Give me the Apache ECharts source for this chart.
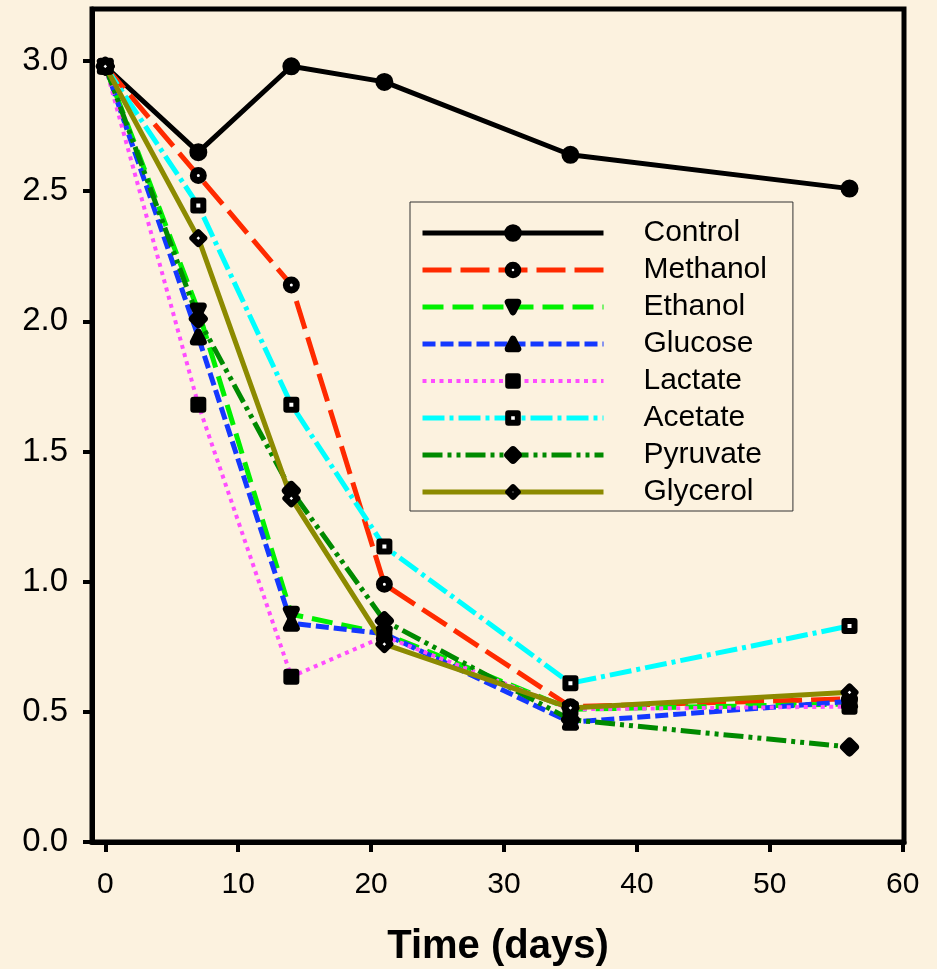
<!DOCTYPE html>
<html>
<head>
<meta charset="utf-8">
<script src="https://cdn.jsdelivr.net/npm/echarts@6/dist/echarts.min.js"></script>
<style>
html,body{margin:0;padding:0;background:#fcf2df;}
#chart{width:937px;height:969px;}
</style>
</head>
<body>
<div id="chart"></div>
<script>
// sampling days
var days = [0, 7, 14, 21, 35, 56];
// values per treatment
var control  = [2.98, 2.65, 2.98, 2.92, 2.64, 2.51];
var methanol = [2.98, 2.56, 2.14, 0.99, 0.52, 0.55];
var ethanol  = [2.98, 2.04, 0.875, 0.80, 0.51, 0.53];
var glucose  = [2.98, 1.94, 0.84, 0.80, 0.46, 0.54];
var lactate  = [2.98, 1.68, 0.635, 0.79, 0.51, 0.52];
var acetate  = [2.98, 2.445, 1.68, 1.135, 0.61, 0.83];
var pyruvate = [2.98, 2.01, 1.35, 0.85, 0.47, 0.365];
var glycerol = [2.98, 2.32, 1.32, 0.76, 0.515, 0.575];

var xTicks = [0, 10, 20, 30, 40, 50, 60];
var yTicks = [0, 0.5, 1.0, 1.5, 2.0, 2.5, 3.0];

function pairs(vals) {
    return days.map(function (d, i) { return [d, vals[i]]; });
}

var defs = [
    {name: 'Control',  data: control,  color: '#000000', type: 'solid',          width: 5, symbol: 'circle',   size: 10, fill: '#000', border: 8, rotate: 0},
    {name: 'Methanol', data: methanol, color: '#ff2a00', type: [29, 9],          width: 5, symbol: 'circle',   size: 10, fill: '#fff', border: 7, rotate: 0},
    {name: 'Ethanol',  data: ethanol,  color: '#00f000', type: [21, 9],          width: 5, symbol: 'triangle', size: 10, fill: '#000', border: 7, rotate: 180},
    {name: 'Glucose',  data: glucose,  color: '#1438ff', type: [13, 5],          width: 5, symbol: 'triangle', size: 10, fill: '#000', border: 7, rotate: 0},
    {name: 'Lactate',  data: lactate,  color: '#ff4dff', type: [4, 4.5],         width: 4, symbol: 'rect',     size: 10, fill: '#000', border: 6, rotate: 0},
    {name: 'Acetate',  data: acetate,  color: '#00ffff', type: [22, 5, 4, 5],    width: 5, symbol: 'rect',     size: 10, fill: '#fff', border: 6, rotate: 0},
    {name: 'Pyruvate', data: pyruvate, color: '#008a00', type: [20, 5, 4, 5, 4, 5], width: 5, symbol: 'diamond', size: 11, fill: '#000', border: 8, rotate: 0},
    {name: 'Glycerol', data: glycerol, color: '#8c8a00', type: 'solid',          width: 5, symbol: 'diamond',  size: 12, fill: '#fff', border: 6, rotate: 0}
];

var series = defs.map(function (d) {
    return {
        name: d.name,
        type: 'line',
        data: pairs(d.data),
        symbol: d.symbol,
        symbolSize: d.size,
        symbolRotate: d.rotate,
        showAllSymbol: true,
        lineStyle: {color: d.color, width: d.width, type: d.type},
        itemStyle: {color: d.fill, borderColor: '#000', borderWidth: d.border, borderJoin: 'round'},
        emphasis: {disabled: true}
    };
});

var legendData = defs.map(function (d) {
    return {
        name: d.name,
        itemStyle: {borderWidth: d.border, borderColor: '#000'},
        lineStyle: {width: d.width}
    };
});

var chartDom = document.getElementById('chart');
var myChart = echarts.init(chartDom);
var option = {
    backgroundColor: '#fcf2df',
    animation: false,
    textStyle: {fontFamily: 'Liberation Sans', color: '#000'},
    grid: {
        left: 92, right: 33, top: 9, bottom: 127,
        show: true, borderColor: '#000', borderWidth: 5,
        backgroundColor: 'transparent',
        outerBoundsMode: 'none'
    },
    legend: {
        orient: 'vertical',
        left: 410,
        top: 202,
        padding: [16, 26, 4, 10],
        itemWidth: 181,
        itemHeight: 12,
        itemGap: 7,
        borderColor: '#333',
        borderWidth: 1,
        selectedMode: false,
        textStyle: {fontSize: 30, lineHeight: 29, color: '#000', fontFamily: 'Liberation Sans', padding: [0, 0, 0, 35]},
        data: legendData
    },
    xAxis: {
        type: 'value',
        min: -1,
        max: 60.1,
        name: 'Time (days)',
        nameLocation: 'middle',
        nameGap: 85,
        nameTextStyle: {fontSize: 40, fontWeight: 'bold', color: '#000', fontFamily: 'Liberation Sans'},
        axisLine: {show: true, onZero: false, lineStyle: {color: '#000', width: 5}},
        axisTick: {show: true, length: 10, lineStyle: {color: '#000', width: 4}, customValues: xTicks},
        axisLabel: {fontSize: 30, color: '#000', margin: 28, customValues: xTicks},
        splitLine: {show: false}
    },
    yAxis: {
        type: 'value',
        min: 0,
        max: 3.2,
        axisLine: {show: true, onZero: false, lineStyle: {color: '#000', width: 5}},
        axisTick: {show: true, length: 9, lineStyle: {color: '#000', width: 4}, customValues: yTicks},
        axisLabel: {fontSize: 33, color: '#000', margin: 24, customValues: yTicks,
            formatter: function (v) { return v.toFixed(1); }},
        splitLine: {show: false}
    },
    series: series
};
myChart.setOption(option);
</script>
</body>
</html>
